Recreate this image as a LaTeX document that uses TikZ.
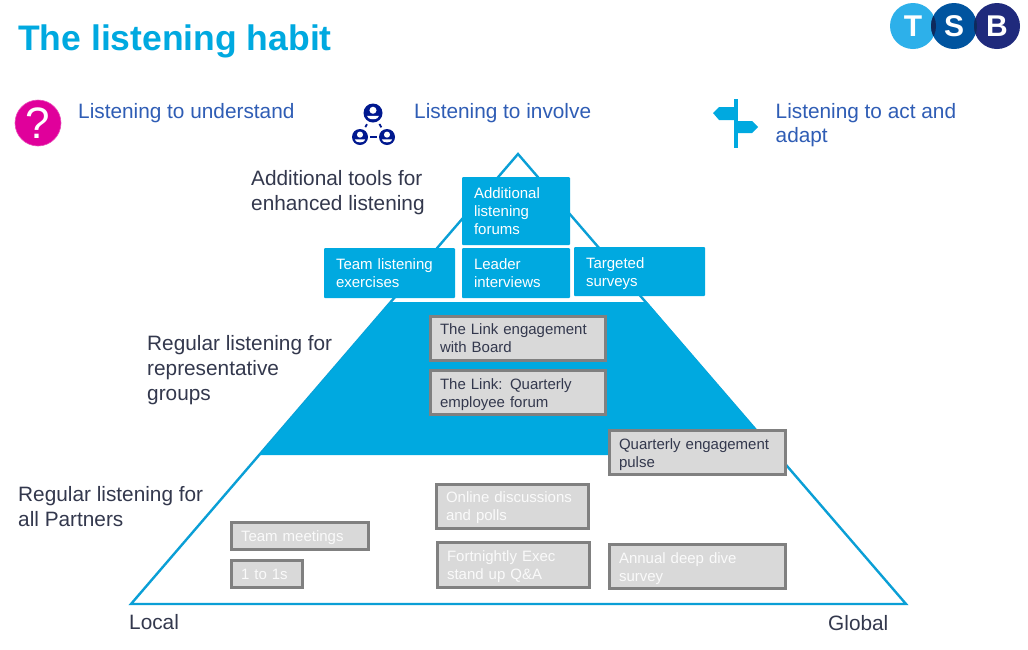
\documentclass[tikz,border=0pt]{standalone}
\usepackage{fontspec}
\setmainfont{Liberation Sans}
\definecolor{tsbblue}{HTML}{00A9E0}
\definecolor{pyrline}{HTML}{0A9FD6}
\definecolor{headblue}{HTML}{2F5DB5}
\definecolor{darktxt}{HTML}{33384D}
\definecolor{greyfill}{HTML}{D9D9D9}
\definecolor{greyline}{HTML}{808080}
\definecolor{navy}{HTML}{00188F}
\definecolor{tsbt}{HTML}{2DB0EA}
\definecolor{tsbs}{HTML}{00549F}
\definecolor{tsbb}{HTML}{1F2A7C}
\definecolor{tsbdark}{HTML}{0E2A5C}
\definecolor{qmag}{HTML}{E0009B}
\tikzset{
  x=1pt,y=-1pt,
  inset/.store in=\boxinset,
  boxtext/.style={font=\fontsize{15}{18}\selectfont,align=left,anchor=north west,outer sep=0pt},
  bluebox/.style={boxtext,fill=tsbblue,text=white,rounded corners=1pt,inset=12pt},
  greybox/.style={boxtext,fill=greyfill,draw=greyline,line width=3pt,text=darktxt,inset=9.5pt},
  ghostbox/.style={greybox,text=white!88!greyfill},
  heading/.style={font=\fontsize{20.8}{24.5}\selectfont,text=headblue,align=left,anchor=base west,inner sep=0pt},
  label/.style={font=\fontsize{20.8}{25}\selectfont,text=darktxt,align=left,anchor=base west,inner sep=0pt},
  logo/.style={circle,minimum size=46pt,inner sep=0pt,text=white,font=\fontsize{30}{30}\bfseries\selectfont},
  pyr/.style={draw=pyrline,line width=2.4pt,line join=miter},
  person/.style={circle,fill=navy,inner sep=0pt},
  iconlink/.style={draw=navy,line width=1.8pt},
  signs/.style={fill=tsbblue,draw=none}
}
\newcommand{\boxrect}[7]{% name, style, x1, y1, x2, y2, text
  \node[#2,minimum width=#5pt-#3pt,minimum height=#6pt-#4pt,text width=#5pt-#3pt-2*\boxinset,inner xsep=\boxinset,inner ysep=0pt,anchor=north west] (#1) at (#3,#4) {#7};}
% a taller first line moves the text of a box down by half the extra height
\newcommand{\lowr}{\rule{0pt}{15pt}}
\begin{document}
\begin{tikzpicture}
\useasboundingbox (0,0) rectangle (1028,649);
\fill[white] (0,0) rectangle (1028,649);
% title
\node[anchor=base west,inner sep=0pt,font=\fontsize{35.5}{40}\bfseries\selectfont,text=tsbblue] (title) at (18,50.5) {The listening habit};
% logo
\node[logo,fill=tsbt] (logoT) at (913,26) {};
\node[logo,fill=tsbs] (logoS) at (954,26) {};
\node[logo,fill=tsbb] (logoB) at (997,26) {};
\begin{scope}
  \clip (913,26) circle (23);
  \fill[tsbdark] (954,26) circle (23);
\end{scope}
\begin{scope}
  \clip (954,26) circle (23);
  \fill[tsbdark] (997,26) circle (23);
\end{scope}
\node[logo] at (logoT) {T};
\node[logo] at (logoS) {S};
\node[logo] at (logoB) {B};
% question icon
\node[circle,fill=qmag,draw=qmag!70!white,line width=.6pt,minimum size=46pt,inner sep=0pt,text=white,font=\fontsize{44}{44}\selectfont] (qicon) at (38,123) {?};
% people icon
\node[person,minimum size=19pt] (p1) at (373,113) {};
\node[person,minimum size=16pt] (p2) at (360,137) {};
\node[person,minimum size=16pt] (p3) at (387,137) {};
\draw[iconlink,shorten <=3pt,shorten >=3pt] (p1) -- (p2);
\draw[iconlink,shorten <=3pt,shorten >=3pt] (p1) -- (p3);
\draw[iconlink,shorten <=2pt,shorten >=2pt] (p2) -- (p3);
\foreach \n/\s in {p1/1.1,p2/.95,p3/.95}{
  \fill[white] ([yshift=2.5*\s pt]\n.center) circle (3.2*\s);
  \fill[white] ([yshift=-2.5*\s pt]\n.center) ++(-5.5*\s,0) arc[start angle=180,end angle=360,x radius=5.5*\s,y radius=-3.2*\s] -- cycle;
}
% signpost
\fill[signs] (734,99) rectangle (738,148);
\fill[signs] (713,113) -- (719,107) -- (735,107) -- (735,120) -- (719,120) -- cycle;
\fill[signs] (737,121) -- (752,121) -- (758,127) -- (752,133) -- (737,133) -- cycle;
% headings
\node[heading] (h1) at (78,118.5) {Listening to understand};
\node[heading] (h2) at (414,118) {Listening to involve};
\node[heading] (h3) at (775.5,142.5) {Listening to act and\\adapt};
% labels
\node[label] (l1) at (251,210) {Additional tools for\\enhanced listening};
\node[label] (l2) at (147,400) {Regular listening for\\representative\\groups};
\node[label] (l3) at (18,526) {Regular listening for\\all Partners};
\node[label] (local) at (129,629) {Local};
\node[label] (global) at (828,630) {Global};
% pyramid
\coordinate (apex) at (518,154);
\coordinate (bl) at (131,604);
\coordinate (br) at (906,604);
\draw[pyr] (apex) -- (bl) -- (br) -- cycle;
\fill[tsbblue] (390,302) -- (647,302) -- (778,455) -- (259,455) -- cycle;
% blue boxes
\boxrect{b1}{bluebox}{462}{177}{570}{245}{Additional\\listening\\forums}
\boxrect{b2}{bluebox}{324}{248}{455}{298}{Team listening\\exercises}
\boxrect{b3}{bluebox}{462}{248}{570}{298}{Leader\\interviews}
\boxrect{b4}{bluebox}{574}{247}{705}{296}{\lowr Targeted\\surveys}
% grey boxes
\boxrect{g1}{greybox}{430.5}{316.5}{605.5}{360.5}{The Link engagement\\with Board}
\boxrect{g2}{greybox}{430.5}{370.5}{605.5}{414.5}{\lowr The Link: Quarterly\\employee forum}
\boxrect{g3}{greybox}{609.5}{430.5}{785.5}{474.5}{\lowr Quarterly engagement\\pulse}
\boxrect{g4}{ghostbox}{436.5}{484.5}{588.5}{528.5}{\rule{0pt}{13pt}Online discussions\\and polls}
\boxrect{g5}{ghostbox}{437.5}{542.5}{589.5}{587.5}{\lowr Fortnightly Exec\\stand up Q\&A}
\boxrect{g6}{ghostbox}{609.5}{544.5}{785.5}{588.5}{\lowr Annual deep dive\\survey}
\boxrect{g7}{ghostbox}{231.5}{522.5}{368.5}{549.5}{\lowr Team meetings}
\boxrect{g8}{ghostbox}{231.5}{560.5}{302.5}{587.5}{1 to 1s}
\end{tikzpicture}
\end{document}
